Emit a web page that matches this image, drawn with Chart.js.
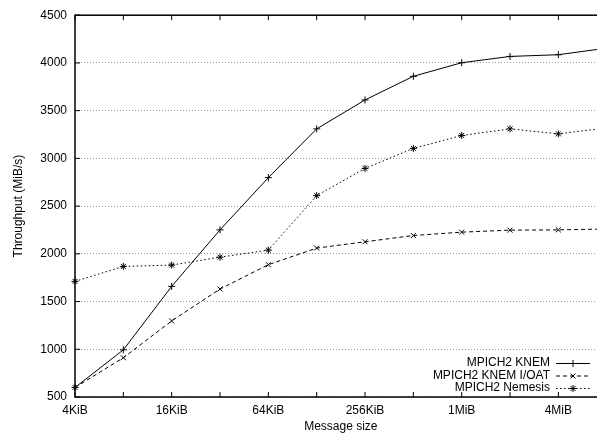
<!DOCTYPE html>
<html>
<head>
<meta charset="utf-8">
<script src="https://cdn.jsdelivr.net/npm/chart.js@4/dist/chart.umd.min.js"></script>
<style>
  html, body { margin: 0; padding: 0; background: #fff; overflow: hidden; width: 597px; height: 434px; }
  canvas { display: block; }
</style>
</head>
<body>
<canvas id="c" width="620" height="434" style="width:620px;height:434px"></canvas>
<script>
// ---- data ----
const categories = ['4KiB','8KiB','16KiB','32KiB','64KiB','128KiB','256KiB','512KiB','1MiB','2MiB','4MiB','8MiB'];
const xTickLabels = ['4KiB','','16KiB','','64KiB','','256KiB','','1MiB','','4MiB',''];
const knem    = [600, 994, 1659, 2251, 2798, 3309, 3612, 3860, 4002, 4068, 4086, 4155];
const knemIoat = [600, 911, 1297, 1631, 1886, 2060, 2126, 2192, 2227, 2248, 2251, 2260];
const nemesis = [1711, 1868, 1882, 1965, 2039, 2610, 2895, 3104, 3240, 3309, 3257, 3319];
const seriesNames = ['MPICH2 KNEM', 'MPICH2 KNEM I/OAT', 'MPICH2 Nemesis'];
const yMin = 500, yMax = 4500, yStep = 500;

Chart.defaults.font.family = '"Liberation Sans", Arial, Helvetica, sans-serif';
Chart.defaults.font.size = 12;
Chart.defaults.color = '#000';

const framePlugin = {
  id: 'frame',
  afterDatasetsDraw(chart) {
    const {ctx, chartArea: a, scales: {x, y}} = chart;
    ctx.save();
    ctx.strokeStyle = '#000';
    ctx.setLineDash([]);
    const line = (x1, y1, x2, y2) => { ctx.beginPath(); ctx.moveTo(x1, y1); ctx.lineTo(x2, y2); ctx.stroke(); };
    ctx.lineWidth = 1;
    x.ticks.forEach((t, i) => {
      const px = x.getPixelForTick(i);
      line(px, a.bottom, px, a.bottom - 5);
      line(px, a.top, px, a.top + 5);
    });
    y.ticks.forEach((t, i) => {
      const py = y.getPixelForTick(i);
      line(a.left, py, a.left + 5, py);
      line(a.right, py, a.right - 5, py);
    });
    ctx.lineWidth = 1.5;
    ctx.strokeRect(a.left, a.top, a.right - a.left, a.bottom - a.top);
    ctx.restore();
  }
};

const legendPlugin = {
  id: 'gpLegend',
  afterDraw(chart) {
    const {ctx} = chart;
    const textRight = 550, lineStart = 556, lineEnd = 590, rowY0 = 363, rowStep = 12.5;
    ctx.save();
    ctx.font = '12px "Liberation Sans", Arial, sans-serif';
    ctx.textAlign = 'right';
    ctx.textBaseline = 'middle';
    ctx.fillStyle = '#000';
    chart.data.datasets.forEach((ds, i) => {
      const yy = rowY0 + i * rowStep;
      ctx.fillText(ds.label, textRight, yy);
      ctx.strokeStyle = '#000';
      ctx.lineWidth = ds.borderWidth;
      ctx.setLineDash(ds.borderDash || []);
      ctx.beginPath();
      ctx.moveTo(lineStart, yy + 0.5);
      ctx.lineTo(lineEnd, yy + 0.5);
      ctx.stroke();
      ctx.setLineDash([]);
      if (Chart.helpers && Chart.helpers.drawPoint) {
        ctx.lineWidth = ds.pointBorderWidth;
        Chart.helpers.drawPoint(ctx, {pointStyle: ds.pointStyle, radius: ds.pointRadius, rotation: 0, borderWidth: ds.pointBorderWidth}, (lineStart + lineEnd) / 2, yy + 0.5);
      }
    });
    ctx.restore();
  }
};

new Chart(document.getElementById('c'), {
  type: 'line',
  data: {
    labels: categories,
    datasets: [
      { label: seriesNames[0], data: knem, borderColor: '#000', backgroundColor: '#000', borderWidth: 1, borderDash: [],
        pointStyle: 'cross', pointRadius: 3.5, pointBorderWidth: 1, pointBorderColor: '#000', tension: 0, fill: false },
      { label: seriesNames[1], data: knemIoat, borderColor: '#000', backgroundColor: '#000', borderWidth: 1, borderDash: [4, 3],
        pointStyle: 'crossRot', pointRadius: 3.5, pointBorderWidth: 1, pointBorderColor: '#000', tension: 0, fill: false },
      { label: seriesNames[2], data: nemesis, borderColor: '#000', backgroundColor: '#000', borderWidth: 1, borderDash: [1.5, 2.5],
        pointStyle: 'star', pointRadius: 3.5, pointBorderWidth: 1, pointBorderColor: '#000', tension: 0, fill: false }
    ]
  },
  options: {
    responsive: false,
    animation: false,
    devicePixelRatio: 1,
    layout: { padding: { top: 14, right: 13.3, left: 0, bottom: 0 } },
    plugins: { legend: { display: false }, tooltip: { enabled: false } },
    elements: { line: { borderCapStyle: 'butt' } },
    scales: {
      x: {
        type: 'category',
        offset: false,
        grid: { display: false, drawTicks: false },
        border: { display: false },
        ticks: {
          autoSkip: false, maxRotation: 0, minRotation: 0, padding: 6,
          font: { size: 12 }, color: '#000',
          callback: (v, i) => xTickLabels[i]
        },
        title: { display: true, text: 'Message size', font: { size: 12 }, color: '#000', padding: { top: 0, bottom: 0 } },
        afterFit: (s) => { s.height = 37; }
      },
      y: {
        min: yMin, max: yMax,
        grid: { color: '#9a9a9a', lineWidth: 1, drawTicks: false },
        border: { display: false, dash: [1, 2] },
        ticks: { stepSize: yStep, padding: 8, font: { size: 12 }, color: '#000', callback: (v) => String(v) },
        title: { display: true, text: 'Throughput (MiB/s)', font: { size: 12 }, color: '#000', padding: { top: 11, bottom: 0 } },
        afterFit: (s) => { s.width = 75; }
      }
    }
  },
  plugins: [framePlugin, legendPlugin]
});
</script>
</body>
</html>
